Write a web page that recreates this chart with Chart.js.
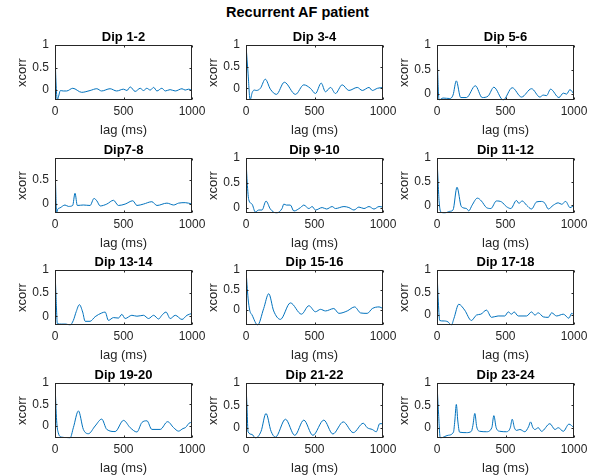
<!DOCTYPE html>
<html><head><meta charset="utf-8">
<script src="https://cdn.jsdelivr.net/npm/chart.js@4.4.0/dist/chart.umd.min.js"></script>
<style>
html,body{margin:0;padding:0;background:#fff;}
#wrap{position:relative;width:595px;height:475px;overflow:hidden;background:#fff;}
canvas.pane{position:absolute;}
#main{position:absolute;left:0;top:4px;width:595px;text-align:center;line-height:16px;font:bold 14.5px "Liberation Sans",Arial,sans-serif;color:#000;}
</style></head><body>
<div id="wrap"><div id="main">Recurrent AF patient</div></div>
<script>
const titles = ['Dip 1-2','Dip 3-4','Dip 5-6','Dip7-8','Dip 9-10','Dip 11-12','Dip 13-14','Dip 15-16','Dip 17-18','Dip 19-20','Dip 21-22','Dip 23-24'];
const xTicks = [0, 500, 1000];
const yTicks = [0, 0.5, 1];

const lag1 = [0, 3, 7, 12, 17, 25, 40, 60, 85, 130, 195, 256, 305, 340, 402, 450, 500, 525, 549, 585, 622, 646, 670, 695, 720, 744, 780, 805, 840, 878, 927, 950, 975, 1000];
const xc1  = [1, 0.55, 0.2, -0.1, -0.22, -0.15, -0.01, -0.02, -0.02, 0.04, -0.05, -0.01, 0.03, -0.02, 0.03, -0.02, 0.02, -0.01, 0.07, -0.03, 0.04, -0.01, 0.04, 0.0, 0.06, -0.02, 0.04, -0.02, 0.01, -0.02, 0.03, 0.0, 0.02, 0.0];

const lag2 = [0, 15, 30, 45, 60, 75, 105, 141, 178, 222, 280, 361, 422, 470, 507, 549, 580, 617, 653, 702, 751, 812, 849, 898, 922, 959, 1000];
const xc2  = [1, 0.35, -0.27, -0.1, -0.04, -0.05, 0, 0.21, -0.02, -0.14, 0.14, -0.14, 0.08, 0, -0.12, 0.12, -0.08, 0.02, -0.12, 0.08, -0.05, 0.02, -0.05, 0.02, -0.05, 0, 0.02];

const lag3 = [0, 5, 15, 44, 93, 117, 141, 173, 215, 280, 330, 373, 415, 483, 549, 617, 690, 751, 775, 800, 829, 890, 922, 946, 970, 1000];
const xc3  = [1, 0.45, -0.12, -0.08, -0.09, -0.02, 0.27, -0.07, -0.07, 0.17, -0.07, -0.04, 0.14, -0.12, 0.13, -0.06, 0.11, -0.06, -0.02, -0.03, 0.10, -0.07, 0.02, 0.0, 0.09, 0.0];

const lag4 = [0, 5, 12, 20, 37, 73, 98, 129, 146, 163, 207, 256, 285, 305, 330, 378, 427, 463, 512, 568, 598, 646, 707, 744, 817, 866, 902, 951, 1000];
const xc4  = [0.97, 0.34, -0.2, -0.12, -0.09, -0.03, -0.06, -0.04, 0.22, -0.04, -0.03, -0.04, 0.11, 0.06, -0.05, -0.01, 0.07, -0.04, -0.01, 0.06, -0.04, -0.01, 0.04, -0.04, 0.01, -0.03, 0.01, 0.02, -0.01];

const lag5 = [0, 7, 20, 44, 68, 93, 117, 146, 178, 222, 263, 276, 295, 324, 349, 398, 422, 459, 483, 507, 556, 588, 629, 653, 715, 751, 788, 824, 861, 898, 934, 971, 1000];
const xc5  = [1, 0.59, 0.16, 0.07, -0.09, -0.05, -0.05, 0.13, -0.03, -0.11, -0.02, 0.07, 0.05, 0.05, -0.07, 0, 0.05, -0.02, 0.02, -0.05, 0, -0.03, 0.02, -0.02, 0.02, 0, -0.05, 0.01, -0.02, 0.02, -0.03, 0.02, 0.01];

const lag6 = [0, 8, 15, 27, 56, 93, 117, 146, 178, 215, 232, 256, 295, 324, 361, 393, 434, 471, 507, 539, 580, 598, 622, 654, 690, 727, 763, 788, 812, 849, 885, 910, 939, 971, 1000];
const xc6  = [1, 0.5, 0.1, -0.14, -0.165, -0.13, -0.1, 0.38, -0.03, -0.07, -0.12, 0, 0.15, 0.09, -0.05, -0.07, 0.09, 0.07, -0.03, -0.07, 0.1, 0.04, 0.09, 0, -0.08, 0.07, 0.08, 0.04, -0.08, 0, 0.05, 0.02, 0.08, -0.05, 0];

const lag7 = [0, 8, 17, 49, 80, 110, 134, 155, 178, 202, 220, 256, 293, 341, 366, 390, 427, 463, 488, 512, 561, 598, 646, 683, 720, 756, 780, 810, 841, 878, 927, 963, 1000];
const xc7  = [1, 0.4, -0.16, -0.17, -0.17, -0.19, -0.09, 0.1, 0.25, 0.09, -0.11, -0.11, -0.01, 0.07, 0.09, -0.09, -0.03, -0.04, 0.04, -0.05, 0.02, 0, 0.02, -0.05, 0.02, -0.06, 0.02, 0.09, -0.05, 0.02, -0.07, 0.02, 0.06];

const lag8 = [0, 15, 27, 44, 85, 129, 166, 202, 251, 324, 405, 459, 507, 544, 580, 641, 678, 739, 793, 837, 885, 922, 971, 1000];
const xc8  = [1, 0.3, 0, -0.12, -0.37, 0.04, 0.41, -0.02, -0.23, 0.18, -0.1, 0.11, -0.04, 0.02, -0.02, 0.04, -0.08, -0.02, 0.08, -0.07, -0.08, 0.04, 0.08, 0.04];

const lag9 = [0, 8, 20, 44, 80, 105, 124, 159, 202, 251, 288, 320, 361, 398, 446, 495, 520, 544, 563, 593, 654, 690, 715, 739, 776, 812, 837, 873, 922, 963, 983, 1000];
const xc9  = [1, 0.4, -0.12, -0.13, -0.15, -0.22, -0.07, 0.24, 0.11, -0.12, 0, 0.02, 0.11, -0.05, -0.02, -0.02, 0.07, 0.02, 0.07, -0.02, -0.02, 0.07, 0, 0.05, -0.04, -0.05, 0.05, -0.02, 0.02, -0.07, 0.04, 0];

const lag10 = [0, 12, 24, 49, 85, 110, 134, 171, 207, 244, 293, 341, 378, 439, 500, 549, 598, 634, 671, 707, 768, 822, 866, 902, 934, 951, 988, 1000];
const xc10  = [1, 0.12, -0.16, -0.26, -0.27, -0.28, -0.04, 0.35, -0.08, -0.18, 0, 0.16, -0.08, -0.13, 0.13, -0.04, -0.14, 0.08, 0.12, -0.08, -0.08, 0.1, -0.04, -0.12, -0.06, -0.04, 0.08, 0.06];

const lag11 = [0, 8, 15, 44, 68, 110, 146, 183, 215, 288, 356, 422, 488, 568, 634, 710, 783, 856, 885, 922, 951, 976, 1000];
const xc11  = [1, 0.4, -0.09, -0.15, -0.23, -0.08, 0.32, -0.08, -0.21, 0.19, -0.17, 0.17, -0.17, 0.17, -0.14, 0.13, -0.11, 0.1, 0, -0.04, -0.09, 0.09, 0.09];

const lag12 = [0, 10, 24, 80, 120, 130, 141, 152, 165, 215, 251, 262, 276, 290, 312, 361, 400, 415, 432, 459, 507, 535, 549, 565, 580, 605, 641, 668, 683, 700, 715, 739, 763, 824, 861, 885, 922, 963, 1000];
const xc12  = [1, 0.4, -0.23, -0.17, -0.1, 0.15, 0.52, 0.15, -0.1, -0.11, -0.08, 0.05, 0.32, 0.02, -0.08, -0.09, 0.0, 0.27, 0.0, -0.08, -0.09, 0.0, 0.19, 0.0, -0.06, -0.04, -0.09, 0.02, 0.13, 0.0, -0.04, 0, -0.08, 0.09, -0.04, 0, -0.08, 0.08, 0];

const lags = [lag1,lag2,lag3,lag4,lag5,lag6,lag7,lag8,lag9,lag10,lag11,lag12];
const xcs  = [xc1,xc2,xc3,xc4,xc5,xc6,xc7,xc8,xc9,xc10,xc11,xc12];

// layout (pixels)
const colLeft = [55, 246, 437];
const rowTop = [45, 158, 270, 383];
const boxW = 137, boxH = 55;
const padL = 55, padT = 24, padB = 42, padR = 20;
const FAM = '"Liberation Sans", Arial, Helvetica, sans-serif';
const AX = '#262626';

const boxPlugin = {
  id: 'mbox',
  afterDatasetsDraw(chart) {
    const {ctx, chartArea: a, scales: {x, y}} = chart;
    ctx.save();
    ctx.strokeStyle = AX; ctx.lineWidth = 1;
    const L = Math.round(a.left) + 0.5, R = Math.round(a.right) - 0.5;
    const T = Math.round(a.top) + 0.5, B = Math.round(a.bottom) - 0.5;
    ctx.strokeRect(L, T, R - L, B - T);
    ctx.beginPath();
    const tl = 2;
    x.ticks.forEach(t => {
      const px = Math.round(x.getPixelForValue(t.value)) + 0.5;
      ctx.moveTo(px, B); ctx.lineTo(px, B - tl);
      ctx.moveTo(px, T); ctx.lineTo(px, T + tl);
    });
    y.ticks.forEach(t => {
      const py = Math.round(y.getPixelForValue(t.value)) + 0.5;
      ctx.moveTo(L, py); ctx.lineTo(L + tl, py);
      ctx.moveTo(R, py); ctx.lineTo(R - tl, py);
    });
    ctx.stroke();
    ctx.restore();
  }
};

const wrap = document.getElementById('wrap');
for (let i = 0; i < 12; i++) {
  const r = Math.floor(i / 3), c = i % 3;
  const cv = document.createElement('canvas');
  cv.className = 'pane';
  const w = padL + boxW + padR, h = padT + boxH + padB;
  cv.width = w; cv.height = h;
  cv.style.width = w + 'px'; cv.style.height = h + 'px';
  cv.style.left = (colLeft[c] - padL) + 'px';
  cv.style.top = (rowTop[r] - padT) + 'px';
  wrap.appendChild(cv);
  new Chart(cv, {
    type: 'line',
    data: {
      datasets: [{
        data: lags[i].map((v, k) => ({x: v, y: xcs[i][k]})),
        borderColor: '#0072BD',
        borderWidth: 1,
        pointRadius: 0,
        fill: false,
        cubicInterpolationMode: 'monotone'
      }]
    },
    options: {
      responsive: false,
      animation: false,
      devicePixelRatio: 1,
      layout: {padding: {left: 0, right: padR, top: 0, bottom: 0}},
      plugins: {
        legend: {display: false},
        tooltip: {enabled: false},
        title: {
          display: true, text: titles[i], color: '#000', fullSize: false,
          font: {family: FAM, size: 13, weight: 'bold', lineHeight: 1.2},
          padding: {top: 8.2, bottom: 0.2}
        }
      },
      scales: {
        x: {
          type: 'linear', position: 'bottom', min: 0, max: 1000,
          grid: {display: false, drawTicks: false},
          border: {display: false},
          afterBuildTicks: s => { s.ticks = xTicks.map(v => ({value: v})); },
          afterFit: s => { s.height = padB; },
          ticks: {color: AX, font: {family: FAM, size: 12}, padding: 4, maxRotation: 0, autoSkip: false,
                  callback: v => String(v)},
          title: {display: true, text: 'lag (ms)', color: AX, font: {family: FAM, size: 13}, padding: {top: 0, bottom: 4.2}}
        },
        y: {
          type: 'linear', position: 'left', bounds: 'data',
          grid: {display: false, drawTicks: false},
          border: {display: false},
          afterBuildTicks: s => { s.ticks = yTicks.filter(v => v >= s.min - 1e-9 && v <= s.max + 1e-9).map(v => ({value: v})); },
          afterFit: s => { s.width = padL; },
          ticks: {color: AX, font: {family: FAM, size: 12}, padding: 6, callback: v => String(v)},
          title: {display: true, text: 'xcorr', color: AX, font: {family: FAM, size: 13}, padding: {top: 14.7, bottom: 0}}
        }
      }
    },
    plugins: [boxPlugin]
  });
}
</script>
</body></html>
